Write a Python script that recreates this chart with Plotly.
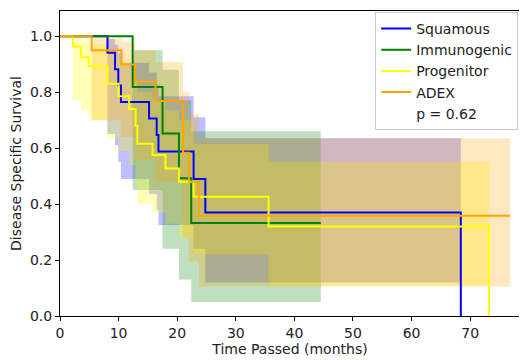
import plotly.graph_objects as go

# ---------------- data ----------------
# Squamous
sq_t = [0, 8.1, 9.4, 9.95, 10.4, 15.2, 16.5, 16.8, 22.8, 24.8, 68.4]
sq_s = [1.0, 0.941, 0.882, 0.824, 0.765, 0.706, 0.647, 0.588, 0.49, 0.37, 0.0]
sq_hi = [1.0, 0.99, 0.97, 0.94, 0.905, 0.87, 0.83, 0.785, 0.71, 0.635]
sq_lo = [1.0, 0.65, 0.61, 0.55, 0.49, 0.435, 0.38, 0.325, 0.24, 0.12]
sq_end = 68.4

# Immunogenic
im_t = [0, 12.4, 17.5, 20.3, 22.4]
im_s = [1.0, 0.818, 0.652, 0.492, 0.332]
im_hi = [1.0, 0.95, 0.88, 0.77, 0.66]
im_lo = [1.0, 0.45, 0.24, 0.13, 0.05]
im_end = 44.5

# Progenitor
pr_t = [0, 2.2, 3.6, 4.9, 8.1, 10.0, 11.8, 12.9, 13.2, 15.8, 18.0, 20.3, 22.8, 35.6, 73.2]
pr_s = [1.0, 0.962, 0.925, 0.893, 0.83, 0.785, 0.74, 0.68, 0.616, 0.575, 0.527, 0.48, 0.426, 0.32, 0.0]
pr_hi = [1.0, 0.995, 0.985, 0.97, 0.94, 0.915, 0.885, 0.845, 0.80, 0.77, 0.735, 0.70, 0.614, 0.55]
pr_lo = [1.0, 0.77, 0.735, 0.70, 0.64, 0.59, 0.54, 0.48, 0.40, 0.37, 0.33, 0.28, 0.22, 0.11]
pr_end = 73.2

# ADEX
ad_t = [0, 5.4, 10.5, 12.8, 16.3, 21.0, 22.0, 23.7]
ad_s = [1.0, 0.95, 0.899, 0.837, 0.768, 0.583, 0.48, 0.358]
ad_hi = [1.0, 0.993, 0.98, 0.95, 0.908, 0.80, 0.72, 0.635]
ad_lo = [1.0, 0.70, 0.64, 0.56, 0.48, 0.28, 0.195, 0.105]
ad_end = 76.8

groups = ["Squamous", "Immunogenic", "Progenitor", "ADEX"]
colors = ["#0000ff", "#008000", "#ffff00", "#ffa500"]
fills = ["rgba(0,0,255,0.25)", "rgba(0,128,0,0.25)", "rgba(255,255,0,0.28)", "rgba(255,165,0,0.25)"]
p_label = "p = 0.62"

x_ticks = [0, 10, 20, 30, 40, 50, 60, 70]
y_ticks = [0.0, 0.2, 0.4, 0.6, 0.8, 1.0]

series = [
    (sq_t, sq_s, sq_hi, sq_lo, sq_end),
    (im_t, im_s, im_hi, im_lo, im_end),
    (pr_t, pr_s, pr_hi, pr_lo, pr_end),
    (ad_t, ad_s, ad_hi, ad_lo, ad_end),
]

fig = go.Figure()

# confidence bands (under all lines)
for (t, s, hi, lo, end), fc in zip(series, fills):
    n = len(hi)
    bx = list(t[:n]) + [end]
    fig.add_trace(go.Scatter(x=bx, y=list(lo) + [lo[-1]], mode="lines",
                             line=dict(width=0, shape="hv", color=fc),
                             showlegend=False, hoverinfo="skip"))
    fig.add_trace(go.Scatter(x=bx, y=list(hi) + [hi[-1]], mode="lines",
                             line=dict(width=0, shape="hv", color=fc),
                             fill="tonexty", fillcolor=fc,
                             showlegend=False, hoverinfo="skip"))

# survival step lines
for (t, s, hi, lo, end), name, c in zip(series, groups, colors):
    if t[-1] == end:
        lx, ly = list(t), list(s)
    else:
        lx, ly = list(t) + [end], list(s) + [s[-1]]
    fig.add_trace(go.Scatter(x=lx, y=ly, mode="lines", name=name, legendgroup=name,
                             line=dict(color=c, width=2, shape="hv")))

fig.add_trace(go.Scatter(x=[None], y=[None], mode="lines", name=p_label, legendgroup="p",
                         line=dict(color="rgba(0,0,0,0)", width=0)))

FS = 14
axis_common = dict(showline=True, linecolor="black", linewidth=1, mirror=True,
                   ticks="outside", ticklen=4, tickcolor="black", showgrid=False,
                   zeroline=False, automargin=False,
                   tickfont=dict(size=FS, color="#222222"))

# the page body adds an 8px offset; size the figure so the plot box lands where the reference has it
fig.update_layout(
    width=519, height=352,
    margin=dict(l=52, r=7, t=3, b=44),
    plot_bgcolor="white", paper_bgcolor="white",
    font=dict(family="DejaVu Sans", size=FS, color="#222222"),
    xaxis=dict(range=[0, 78.5], tickvals=x_ticks,
               title=dict(text="Time Passed (months)", standoff=3, font=dict(size=FS)),
               **axis_common),
    yaxis=dict(range=[0, 1.09], tickvals=y_ticks, tickformat=".1f",
               title=dict(text="Disease Specific Survival", standoff=10, font=dict(size=FS)),
               **axis_common),
    legend=dict(x=0.996, y=0.997, xanchor="right", yanchor="top",
                traceorder="normal", tracegroupgap=0,
                bgcolor="rgba(255,255,255,0.85)", bordercolor="#cccccc", borderwidth=1,
                font=dict(size=FS, color="#222222")),
    showlegend=True,
)

fig.write_html("out.html")
